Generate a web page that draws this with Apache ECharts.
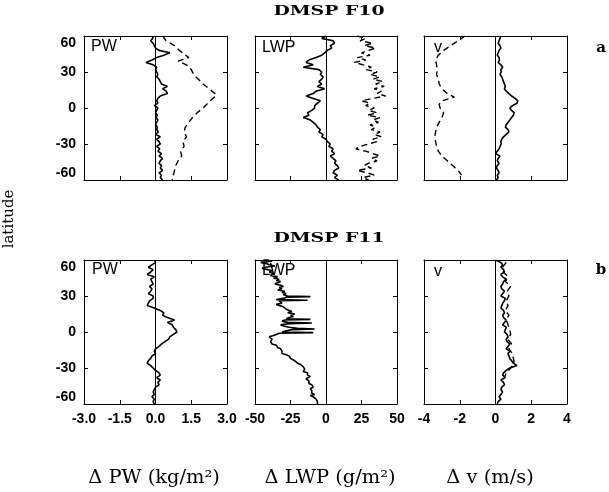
<!DOCTYPE html>
<html>
<head>
<meta charset="utf-8">
<script src="https://cdn.jsdelivr.net/npm/echarts@6/dist/echarts.min.js"></script>
<style>html,body{margin:0;padding:0;background:#fff}#c{width:609px;height:492px}</style>
</head>
<body>
<div id="c"></div>
<script>
// ---------- data ----------
const lat2 = [60,58,56,54,52,50,48,46,44,42,40,38,36,34,32,30,28,26,24,22,20,18,16,14,12,10,8,6,4,2,0,-2,-4,-6,-8,-10,-12,-14,-16,-18,-20,-22,-24,-26,-28,-30,-32,-34,-36,-38,-40,-42,-44,-46,-48,-50,-52,-54,-56,-58,-60];

// DMSP F10
const f10PwSolid = [-0.1,-0.12,-0.2,-0.1,-0.05,0.0,0.15,0.6,0.35,0.05,
  -0.15,-0.4,-0.1,0.05,0.0,0.05,0.1,0.05,0.15,0.2,
  0.25,0.5,0.3,0.45,0.5,0.2,0.1,0.05,0.1,-0.05,
  0.1,0.05,0.0,0.08,0.02,0.1,0.05,0.0,0.08,0.05,
  0.12,0.0,0.2,0.05,0.15,0.2,0.05,0.18,0.1,0.25,
  0.15,0.3,0.2,0.15,0.25,0.2,0.3,0.15,0.25,0.2,
  0.3];
const f10PwDashLat = [60,56,52,48,45,42,39,36,32,28,24,20,16,12,10,8,6,4,0,-4,-8,-12,-16,-20,-24,-28,-32,-36,-40,-44,-48,-52,-56,-60];
const f10PwDash = [0.3,0.45,0.8,1.0,1.2,1.4,0.95,1.3,1.5,1.6,1.8,2.0,2.25,2.5,2.55,2.4,2.3,2.2,2.0,1.75,1.55,1.4,1.25,1.2,1.3,1.15,1.2,1.05,1.1,0.95,0.85,0.8,0.75,0.7];

const f10LwpSolid = [0,-3,5,6,3,4,1,-1,-3,-7,
  -12,-14,-9,-16,-5,-3,-4,-2,-3,-5,
  -3,-6,-1,-7,-9,-14,-9,-4,-6,-8,
  -8,-10,-13,-12,-16,-11,-9,-7,-6,-4,
  -5,-2,-3,0,1,3,2,5,4,6,
  3,5,7,6,8,9,6,5,8,6,
  9];
const f10LwpDash = [22,28,24,33,27,35,30,25,31,22,
  28,20,26,32,28,36,31,38,33,40,
  35,41,34,39,36,42,33,25,31,28,
  34,30,36,29,38,33,37,31,35,32,
  38,34,39,33,36,30,24,21,28,33,
  38,32,36,30,27,32,22,29,34,26,
  30];

const f10VSolid = [0.3,0.25,0.2,0.15,0.25,0.3,0.2,0.15,0.1,0.2,
  0.22,0.15,0.3,0.4,0.3,0.32,0.25,0.35,0.4,0.45,
  0.5,0.55,0.5,0.6,0.75,0.9,1.1,1.25,1.2,0.95,
  0.8,0.9,1.05,1.0,0.9,0.8,0.7,0.6,0.55,0.7,
  0.75,0.6,0.45,0.35,0.3,0.32,0.25,0.2,0.1,0.0,
  0.25,0.15,0.1,0.2,0.1,0.05,0.15,0.2,0.1,0.15,
  0.05];
const f10VDashLat = [60,56,52,48,44,40,36,32,28,24,20,16,12,9,6,3,0,-4,-8,-12,-16,-20,-24,-28,-32,-36,-40,-44,-48,-52,-56];
const f10VDash = [-1.7,-2.1,-2.5,-2.9,-3.2,-3.35,-3.3,-3.25,-3.3,-3.2,-3.15,-3.0,-2.7,-2.3,-3.0,-3.15,-3.1,-2.9,-3.0,-3.15,-3.3,-3.35,-3.4,-3.35,-3.3,-3.2,-3.0,-2.7,-2.4,-2.1,-1.9];

// DMSP F11
const f11PwSolid = [-0.05,0.0,-0.15,-0.3,-0.1,-0.2,-0.35,-0.05,-0.2,-0.15,
  -0.1,-0.25,-0.15,-0.2,-0.3,-0.1,-0.1,-0.25,-0.3,-0.35,
  -0.05,0.2,0.35,0.3,0.5,0.8,0.5,0.7,0.75,0.85,
  0.9,0.75,0.6,0.55,0.4,0.25,0.15,0.0,-0.05,0.0,
  -0.15,-0.2,-0.3,-0.35,-0.2,-0.1,0.0,0.15,0.2,0.05,
  0.2,0.1,0.15,0.0,-0.05,-0.1,-0.05,-0.15,-0.05,-0.1,
  -0.05];

const f11LwpLat = [61,60,59,58,57,56,55,54,53,52,51,50,49,48,47,46,45,44,43,42,41,40,39,38,37,36,35,34,33,32,31,30,29.5,29,28,27,26.5,26,25,24,23,22,21,20,19,18,17,16,15,14,13,12,11,10.5,10,9,8,7.5,7,6,5,4,3,2.5,2,1,0,-0.5,-1,-2,-3,-4,-5,-6,-7,-8,-9,-10,-11,-12,-13,-14,-15,-16,-17,-18,-19,-20,-21,-22,-23,-24,-25,-26,-27,-28,-29,-30,-31,-32,-33,-34,-35,-36,-37,-38,-39,-40,-41,-42,-43,-44,-45,-46,-47,-48,-49,-50,-51,-52,-53,-54,-55,-56,-57,-58,-59,-60];
const f11LwpSolid = [-40,-44,-38,-46,-42,-40,-36,-43,-45,-41,
  -38,-40,-37,-36,-39,-34,-37,-33,-35,-32,
  -34,-36,-32,-30,-33,-31,-34,-29,-31,-28,
  -30,-27,-11,-28,-30,-35,-13,-33,-34,-31,
  -35,-33,-30,-31,-28,-26,-24,-27,-22,-25,
  -23,-26,-28,-11,-29,-31,-27,-10,-25,-32,
  -30,-26,-20,-8,-24,-28,-31,-9,-33,-35,
  -37,-40,-41,-38,-37,-39,-40,-38,-35,-36,
  -34,-32,-33,-31,-30,-31,-28,-26,-27,-25,
  -24,-22,-21,-20,-18,-17,-16,-16,-15,-15,
  -16,-13,-12,-13,-11,-12,-14,-15,-12,-11,
  -12,-10,-11,-9,-11,-12,-10,-9,-10,-8,
  -11,-9,-8,-7,-8,-6,-7,-6];

const f11VSolid = [0.0,0.3,0.4,0.3,0.45,0.5,0.3,0.4,0.6,0.45,
  0.4,0.3,0.35,0.5,0.4,0.3,0.55,0.5,0.4,0.35,
  0.3,0.45,0.5,0.4,0.45,0.6,0.5,0.4,0.6,0.55,
  0.5,0.65,0.7,0.6,0.65,0.8,0.7,0.6,0.8,0.7,
  0.75,0.8,0.9,1.0,1.2,0.8,0.6,0.45,0.4,0.55,
  0.3,0.45,0.5,0.35,0.3,0.4,0.3,0.2,0.3,0.15,
  0.1];
const f11VDashLat = [58,54,50,46,42,38,34,30,26,22,18,14,10,6,2,-2,-6,-10,-14,-18,-22,-26,-30,-34,-38];
const f11VDash = [0.6,0.4,0.45,0.7,0.55,0.85,0.65,0.75,0.6,0.7,0.55,0.75,0.6,0.7,0.8,0.85,0.7,0.9,0.75,0.95,1.0,1.05,0.85,0.6,0.5];

// axes / ticks
const xRanges = [[-3, 3, 1.5], [-50, 50, 25], [-4, 4, 2]];
const latRange = [-60, 60, 30];
const rowTitles = ['DMSP F10', 'DMSP F11'];
const rowLetters = ['a', 'b'];
const panelNames = ['PW', 'LWP', 'v'];
const axisTitles = ['\u0394 PW (kg/m\u00b2)', '\u0394 LWP (g/m\u00b2)', '\u0394 v (m/s)'];

// ---------- chart ----------
const zip = (lat, vals) => vals.map((v, k) => [v, lat[k]]);
const panels = [
  {solid: zip(lat2, f10PwSolid), dash: zip(f10PwDashLat, f10PwDash)},
  {solid: zip(lat2, f10LwpSolid), dash: zip(lat2, f10LwpDash)},
  {solid: zip(lat2, f10VSolid), dash: zip(f10VDashLat, f10VDash)},
  {solid: zip(lat2, f11PwSolid), dash: null},
  {solid: zip(f11LwpLat, f11LwpSolid), dash: null},
  {solid: zip(lat2, f11VSolid), dash: zip(f11VDashLat, f11VDash)}
];

const colLeft = [84, 255, 424];
const colWidth = [143, 142, 143];
const rowTop = [36, 260];
const panelH = 144;

const grid = [], xAxis = [], yAxis = [], series = [];
const tickFont = {color: '#000', fontFamily: 'Liberation Sans', fontWeight: 'bold', fontSize: 14};
const lineBlack = {color: '#000', width: 1};

for (let i = 0; i < 6; i++) {
  const col = i % 3, row = Math.floor(i / 3);
  grid.push({left: colLeft[col], top: rowTop[row], width: colWidth[col], height: panelH, containLabel: false, outerBoundsMode: 'none'});
  const xr = xRanges[col];
  const fmt = col === 0 ? (v => v.toFixed(1)) : (v => String(v));
  ['bottom', 'top'].forEach((pos, j) => {
    xAxis.push({
      gridIndex: i, type: 'value', min: xr[0], max: xr[1], interval: xr[2], position: pos,
      axisLine: {show: true, onZero: false, lineStyle: lineBlack},
      axisTick: {show: true, inside: true, length: 4, lineStyle: lineBlack},
      axisLabel: {show: pos === 'bottom' && row === 1, margin: 8, formatter: fmt, ...tickFont},
      splitLine: {show: false}
    });
  });
  ['left', 'right'].forEach((pos) => {
    yAxis.push({
      gridIndex: i, type: 'value', min: latRange[0], max: latRange[1], interval: latRange[2], position: pos,
      axisLine: {show: true, onZero: false, lineStyle: lineBlack},
      axisTick: {show: true, inside: true, length: 4, lineStyle: lineBlack},
      axisLabel: {show: pos === 'left' && col === 0, margin: 8, ...tickFont,
        verticalAlignMaxLabel: 'top', verticalAlignMinLabel: 'bottom'},
      splitLine: {show: false}
    });
  });
  const p = panels[i];
  series.push({
    type: 'line', xAxisIndex: 2 * i, yAxisIndex: 2 * i, data: p.solid,
    showSymbol: false, symbol: 'none', silent: true,
    lineStyle: {color: '#000', width: 1.6},
    markLine: {silent: true, symbol: 'none', label: {show: false},
      lineStyle: {color: '#000', width: 1, type: 'solid'}, data: [{xAxis: 0}]}
  });
  if (p.dash) {
    series.push({
      type: 'line', xAxisIndex: 2 * i, yAxisIndex: 2 * i, data: p.dash,
      showSymbol: false, symbol: 'none', silent: true,
      lineStyle: {color: '#000', width: 1.4, type: [6, 4]}
    });
  }
}

function txt(x, y, text, font, align, valign, extra) {
  return Object.assign({
    type: 'text', x: x, y: y, silent: true,
    style: {text: text, font: font, fill: '#000', align: align, verticalAlign: valign,
      textAlign: align, textVerticalAlign: valign}
  }, extra || {});
}

const graphics = [
  txt(329, 12, rowTitles[0], 'bold 13px "DejaVu Serif"', 'center', 'middle', {scaleX: 1.45}),
  txt(329, 239, rowTitles[1], 'bold 13px "DejaVu Serif"', 'center', 'middle', {scaleX: 1.45}),
  txt(601, 48, rowLetters[0], 'bold 15px "DejaVu Serif"', 'center', 'middle'),
  txt(601, 270, rowLetters[1], 'bold 15px "DejaVu Serif"', 'center', 'middle'),
  txt(9, 219, 'latitude', '15px "DejaVu Serif"', 'center', 'middle', {rotation: Math.PI / 2}),
  txt(154, 478, axisTitles[0], '18px "DejaVu Serif"', 'center', 'middle', {scaleX: 1.08}),
  txt(330, 478, axisTitles[1], '18px "DejaVu Serif"', 'center', 'middle', {scaleX: 1.08}),
  txt(490, 478, axisTitles[2], '18px "DejaVu Serif"', 'center', 'middle', {scaleX: 1.08}),
  txt(91, 39, panelNames[0], '16px "Liberation Sans"', 'left', 'top'),
  txt(262, 40, panelNames[1], '16px "Liberation Sans"', 'left', 'top'),
  txt(434, 40, panelNames[2], '16px "Liberation Sans"', 'left', 'top'),
  txt(92, 262, panelNames[0], '16px "Liberation Sans"', 'left', 'top'),
  txt(262, 263, panelNames[1], '16px "Liberation Sans"', 'left', 'top'),
  txt(434, 264, panelNames[2], '16px "Liberation Sans"', 'left', 'top')
];

const chart = echarts.init(document.getElementById('c'), null, {renderer: 'canvas'});
chart.setOption({
  animation: false,
  backgroundColor: '#fff',
  grid: grid, xAxis: xAxis, yAxis: yAxis, series: series,
  graphic: {elements: graphics}
});
</script>
</body>
</html>
